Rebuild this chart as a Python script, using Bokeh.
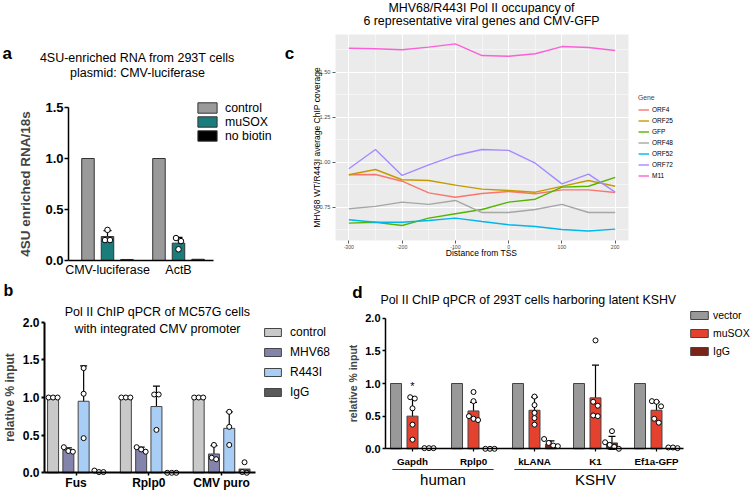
import math
from bokeh.plotting import figure
from bokeh.layouts import row, column
from bokeh.models import (ColumnDataSource, Range1d, FixedTicker, Legend, LegendItem,
                          Whisker, TeeHead, Label, PrintfTickFormatter, BoxAnnotation)
from bokeh.embed import file_html
from bokeh.resources import INLINE
from bokeh.core.properties import value

FONT = "Liberation Sans"

# ---------------- Panel a data ----------------
a_genes = ["CMV-luciferase", "ActB"]
a_series = ["control", "muSOX", "no biotin"]
a_control = [1.0, 1.0]
a_musox = [0.235, 0.17]
a_nobiotin = [0.01, 0.012]
a_musox_sd = [0.058, 0.057]
a_musox_points = [[0.30, 0.20, 0.20], [0.22, 0.19, 0.11]]
a_yticks = [0.0, 0.5, 1.0, 1.5]

# ---------------- Panel b data ----------------
b_genes = ["Fus", "Rplp0", "CMV puro"]
b_series = ["control", "MHV68", "R443I", "IgG"]
b_control = [1.0, 1.0, 1.0]
b_mhv68 = [0.30, 0.31, 0.25]
b_r443i = [0.95, 0.88, 0.59]
b_igg = [0.02, 0.005, 0.05]
b_mhv68_sd = [0.03, 0.03, 0.11]
b_r443i_sd = [0.47, 0.27, 0.22]
b_control_points = [[1.0, 1.0, 1.0], [1.0, 1.0, 1.0], [1.0, 1.0, 1.0]]
b_mhv68_points = [[0.34, 0.29, 0.28], [0.34, 0.31, 0.28], [0.37, 0.20, 0.18]]
b_r443i_points = [[1.39, 1.05, 0.46], [1.04, 1.04, 0.57], [0.81, 0.61, 0.37]]
b_igg_points = [[0.01, 0.03, 0.01], [0.0, 0.0, 0.0], [0.14, 0.01, 0.0]]
b_yticks = [0.0, 0.5, 1.0, 1.5, 2.0]

# ---------------- Panel c data ----------------
c_distance = [-300, -250, -200, -150, -100, -50, 0, 50, 100, 150, 200]
c_genes = ["ORF4", "ORF25", "GFP", "ORF48", "ORF52", "ORF72", "M11"]
c_orf4 = [0.932, 0.933, 0.896, 0.831, 0.807, 0.828, 0.839, 0.826, 0.848, 0.848, 0.833]
c_orf25 = [0.932, 0.961, 0.904, 0.900, 0.874, 0.852, 0.844, 0.835, 0.867, 0.900, 0.868]
c_gfp = [0.663, 0.668, 0.650, 0.691, 0.715, 0.739, 0.780, 0.796, 0.863, 0.868, 0.917]
c_orf48 = [0.743, 0.756, 0.780, 0.767, 0.789, 0.722, 0.722, 0.739, 0.767, 0.722, 0.722]
c_orf52 = [0.682, 0.668, 0.668, 0.678, 0.691, 0.672, 0.654, 0.644, 0.628, 0.619, 0.630]
c_orf72 = [0.965, 1.072, 0.928, 0.987, 1.039, 1.072, 1.067, 0.996, 0.881, 0.935, 0.835]
c_m11 = [1.635, 1.632, 1.626, 1.641, 1.659, 1.594, 1.590, 1.604, 1.644, 1.639, 1.622]
c_xticks = [-300, -200, -100, 0, 100, 200]
c_yticks = [0.75, 1.00, 1.25, 1.50]
c_xlim = (-325, 225)
c_ylim = (0.567, 1.711)

# ---------------- Panel d data ----------------
d_genes = ["Gapdh", "Rplp0", "kLANA", "K1", "Ef1a-GFP"]
d_groups = ["human", "KSHV"]
d_group_first = [0, 2]
d_group_last = [1, 4]
d_series = ["vector", "muSOX", "IgG"]
d_vector = [1.0, 1.0, 1.0, 1.0, 1.0]
d_musox = [0.50, 0.58, 0.59, 0.78, 0.59]
d_igg = [0.01, 0.005, 0.07, 0.09, 0.01]
d_musox_sd = [0.29, 0.13, 0.20, 0.50, 0.13]
d_igg_sd = [0.0, 0.0, 0.05, 0.10, 0.0]
d_musox_points = [[0.79, 0.77, 0.62, 0.37, 0.14], [0.87, 0.73, 0.50, 0.46, 0.44],
                  [0.80, 0.67, 0.55, 0.47, 0.37], [1.66, 0.72, 0.66, 0.51, 0.50],
                  [0.73, 0.72, 0.65, 0.46, 0.40]]
d_igg_points = [[0.01, 0.01, 0.01], [0.0, 0.0, 0.0], [0.15, 0.09, 0.05, 0.04],
                [0.27, 0.10, 0.06, 0.03, 0.0], [0.02, 0.02, 0.01]]
d_significance = ["*", "", "", "", ""]
d_yticks = [0.0, 0.5, 1.0, 1.5, 2.0]


# ---------------- helpers ----------------
class Geom:
    """Maps page pixels to data coordinates; the whole figure is the frame."""
    def __init__(self, ox, oy, w, h, xpx, xval, xscale, ypx, yval, yscale):
        self.ox, self.oy, self.w, self.h = ox, oy, w, h
        self.xpx, self.xval, self.xs = xpx, xval, xscale
        self.ypx, self.yval, self.ys = ypx, yval, yscale
        self.x0, self.x1 = self.dx(ox), self.dx(ox + w)
        self.y0, self.y1 = self.dy(oy + h), self.dy(oy)

    def dx(self, px):
        return self.xval + (px - self.xpx) / self.xs

    def dy(self, py):
        return self.yval + (self.ypx - py) / self.ys


def make_fig(g):
    p = figure(width=g.w, height=g.h, output_backend="svg", toolbar_location=None,
               x_range=Range1d(g.x0, g.x1), y_range=Range1d(g.y0, g.y1),
               min_border_left=0, min_border_right=0, min_border_top=0, min_border_bottom=0)
    p.title.visible = False
    p.outline_line_color = None
    p.grid.visible = False
    p.background_fill_color = "white"
    p.border_fill_color = "white"
    return p


def txt(p, g, s, px, py, size, bold=False, align="center", color="black", angle=0.0):
    p.add_layout(Label(x=g.dx(px), y=g.dy(py), text=s, text_align=align, text_baseline="middle",
                       text_font=FONT, text_font_size=f"{size}px", angle=angle,
                       text_font_style="bold" if bold else "normal", text_color=color))


def spread(vals, thr, step):
    offs = [0.0] * len(vals)
    order = sorted(range(len(vals)), key=lambda i: -vals[i])
    clusters = []
    for i in order:
        if clusters and abs(vals[clusters[-1][-1]] - vals[i]) < thr:
            clusters[-1].append(i)
        else:
            clusters.append([i])
    for c in clusters:
        n = len(c)
        for k, i in enumerate(c):
            offs[i] = (k - (n - 1) / 2) * step
    return offs


def add_points(p, centers, pts, thr, step, size):
    xs, ys = [], []
    for c, vals in zip(centers, pts):
        for o, v in zip(spread(vals, thr, step), vals):
            xs.append(c + o)
            ys.append(v)
    p.scatter(xs, ys, size=size, fill_color="white", line_color="black", line_width=1)


def add_err(p, centers, means, sds, cap, lw=1.2):
    xs, up, lo = [], [], []
    for c, m, s in zip(centers, means, sds):
        if s > 0:
            xs.append(c); up.append(m + s); lo.append(m - s)
    src = ColumnDataSource(dict(x=xs, upper=up, lower=lo))
    p.add_layout(Whisker(source=src, base="x", upper="upper", lower="lower", dimension="height",
                         line_color="black", line_width=lw,
                         upper_head=TeeHead(size=cap, line_color="black", line_width=lw),
                         lower_head=TeeHead(size=cap, line_color="black", line_width=lw)))


def place_legend(p, g, items, left_px, first_cy, row_h, spacing, glyph_h, **kw):
    n = len(items)
    top = first_cy - row_h / 2
    height = n * row_h + (n - 1) * spacing
    leg = Legend(items=items, location=(left_px - g.ox, (g.oy + g.h) - (top + height)),
                 glyph_height=glyph_h, label_height=row_h, spacing=spacing,
                 padding=0, margin=0, border_line_color=None, background_fill_alpha=0,
                 label_text_font=FONT, label_text_color="black", **kw)
    p.add_layout(leg)
    return leg


def gp_axis(ax, lw):
    ax.axis_line_width = lw
    ax.axis_line_color = "black"
    ax.major_tick_line_width = lw
    ax.major_tick_line_color = "black"
    ax.minor_tick_line_color = None
    ax.major_tick_in = 0
    ax.major_label_text_font = FONT
    ax.axis_label_text_font = FONT
    ax.major_label_text_color = "black"


H1 = 278
H2 = 491 - H1
WA = 282
WB = 340

# ================= Panel a =================
ga = Geom(0, 0, WA, H1, xpx=107, xval=0.0, xscale=71.0, ypx=260, yval=0.0, yscale=102.0)
pa = make_fig(ga)
a_idx = list(range(len(a_genes)))
a_off, a_w = 0.275, 0.176
a_colors = ["#9A9A9A", "#1C7C7C", "#000000"]
ra = []
for k, (vals, col) in enumerate(zip([a_control, a_musox, a_nobiotin], a_colors)):
    xs = [i + (k - 1) * a_off for i in a_idx]
    ra.append(pa.vbar(x=xs, top=vals, width=a_w, fill_color=col, line_color="#333333", line_width=1))
add_err(pa, a_idx, a_musox, a_musox_sd, 8)
add_points(pa, a_idx, a_musox_points, 0.04, 0.07, 5.5)

gp_axis(pa.xaxis[0], 1.5)
pa.xaxis.fixed_location = 0
pa.xaxis.bounds = (ga.dx(68), ga.dx(213))
pa.xaxis.ticker = FixedTicker(ticks=a_idx)
pa.xaxis.major_label_overrides = {i: s for i, s in enumerate(a_genes)}
pa.xaxis.major_tick_out = 0
pa.xaxis.major_tick_line_color = None
pa.xaxis.major_label_standoff = 2
pa.xaxis.major_label_text_font_size = "12.5px"
gp_axis(pa.yaxis[0], 1.5)
pa.yaxis.fixed_location = ga.dx(68)
pa.yaxis.bounds = (0, 1.5)
pa.yaxis.ticker = FixedTicker(ticks=a_yticks)
pa.yaxis.formatter = PrintfTickFormatter(format="%.1f")
pa.yaxis.major_tick_out = 4
pa.yaxis.major_label_standoff = 1
pa.yaxis.major_label_text_font_size = "13px"
pa.yaxis.major_label_text_font_style = "bold"
pa.yaxis.axis_label = "4SU enriched RNA/18s"
pa.yaxis.axis_label_text_font_size = "13.5px"
pa.yaxis.axis_label_text_font_style = "bold"
pa.yaxis.axis_label_standoff = 9

txt(pa, ga, "a", 2, 52.5, 17, bold=True, align="left")
txt(pa, ga, "4SU-enriched RNA from 293T cells", 137, 57.5, 12.5)
txt(pa, ga, "plasmid: CMV-luciferase", 137, 72.5, 12.5)
place_legend(pa, ga, [LegendItem(label=s, renderers=[r]) for s, r in zip(a_series, ra)],
             195, 110, 13, 0, 13, glyph_width=24, label_standoff=6, label_text_font_size="12.3px")

# ================= Panel c =================
gc = Geom(WA, 0, 750 - WA, H1, xpx=335, xval=c_xlim[0], xscale=293.0 / (c_xlim[1] - c_xlim[0]),
          ypx=34, yval=c_ylim[1], yscale=180.0)
pc = make_fig(gc)
pc.add_layout(BoxAnnotation(left=c_xlim[0], right=c_xlim[1], bottom=c_ylim[0], top=c_ylim[1],
                            fill_color="#EBEBEB", fill_alpha=1, line_color=None, level="image"))
pc.grid.visible = True
c_xminor = [(a + b) / 2 for a, b in zip(c_xticks[:-1], c_xticks[1:])]
c_yminor = [(a + b) / 2 for a, b in zip(c_yticks[:-1], c_yticks[1:])] + [c_yticks[0] - 0.125, c_yticks[-1] + 0.125]
pc.xaxis.ticker = FixedTicker(ticks=c_xticks, minor_ticks=c_xminor)
pc.yaxis.ticker = FixedTicker(ticks=c_yticks, minor_ticks=c_yminor)
for gr in pc.grid:
    gr.grid_line_color = "white"
    gr.grid_line_width = 1.1
    gr.minor_grid_line_color = "white"
    gr.minor_grid_line_width = 0.5
pc.xgrid.bounds = c_xlim
pc.ygrid.bounds = c_ylim
c_colors = ["#F8766D", "#C49A00", "#53B400", "#A6A6A6", "#00B6EB", "#A58AFF", "#FB61D7"]
rc = []
for vals, col in zip([c_orf4, c_orf25, c_gfp, c_orf48, c_orf52, c_orf72, c_m11], c_colors):
    rc.append(pc.line(c_distance, vals, line_color=col, line_width=1.4))
for ax in (pc.xaxis[0], pc.yaxis[0]):
    ax.axis_line_color = None
    ax.major_tick_line_color = "#333333"
    ax.major_tick_line_width = 0.8
    ax.major_tick_out = 3
    ax.major_tick_in = 0
    ax.minor_tick_line_color = None
    ax.major_label_text_font = FONT
    ax.major_label_text_color = "#4D4D4D"
    ax.major_label_standoff = 1
pc.xaxis.fixed_location = c_ylim[0]
pc.xaxis.bounds = c_xlim
pc.yaxis.fixed_location = c_xlim[0]
pc.yaxis.bounds = c_ylim
pc.xaxis.major_label_text_font_size = "5.2px"
pc.yaxis.major_label_text_font_size = "5.7px"
pc.xaxis.formatter = PrintfTickFormatter(format="%d")
pc.yaxis.formatter = PrintfTickFormatter(format="%.2f")

txt(pc, gc, "Distance from TSS", 481, 252, 8.5)
txt(pc, gc, "MHV68 WT/R443I average ChIP coverage", 316, 147, 8.5, angle=math.pi / 2)
txt(pc, gc, "c", 289, 52.5, 17, bold=True)
txt(pc, gc, "MHV68/R443I Pol II occupancy of", 481, 7, 12.4)
txt(pc, gc, "6 representative viral genes and CMV-GFP", 481, 20, 12.4)
place_legend(pc, gc, [LegendItem(label=s, renderers=[r]) for s, r in zip(c_genes, rc)],
             638, 109, 11, 0, 11, glyph_width=11, label_standoff=3, label_text_font_size="6.5px",
             title="Gene", title_text_font=FONT, title_text_font_size="6.8px",
             title_text_font_style="normal", title_standoff=3)

# ================= Panel b =================
gb = Geom(0, H1, WB, H2, xpx=75.5, xval=0.0, xscale=72.8, ypx=472.3, yval=0.0, yscale=75.3)
pb = make_fig(gb)
b_idx = list(range(len(b_genes)))
b_off, b_w = 0.21, 0.151
b_colors = ["#C9C9C9", "#8383AC", "#A9CEF6", "#5A5A5A"]
b_vals = [b_control, b_mhv68, b_r443i, b_igg]
b_pts = [b_control_points, b_mhv68_points, b_r443i_points, b_igg_points]
rb = []
for k, (vals, col) in enumerate(zip(b_vals, b_colors)):
    xs = [i + (k - 1.5) * b_off for i in b_idx]
    rb.append(pb.vbar(x=xs, top=vals, width=b_w, fill_color=col, line_color="#444444", line_width=1))
add_err(pb, [i - 0.5 * b_off for i in b_idx], b_mhv68, b_mhv68_sd, 7)
add_err(pb, [i + 0.5 * b_off for i in b_idx], b_r443i, b_r443i_sd, 7)
for k, pts in enumerate(b_pts):
    add_points(pb, [i + (k - 1.5) * b_off for i in b_idx], pts, 0.06, 0.062, 5)

gp_axis(pb.xaxis[0], 2)
pb.xaxis.fixed_location = 0
pb.xaxis.bounds = (gb.dx(44), gb.dx(255))
pb.xaxis.ticker = FixedTicker(ticks=b_idx)
pb.xaxis.major_label_overrides = {i: s for i, s in enumerate(b_genes)}
pb.xaxis.major_tick_out = 3
pb.xaxis.major_tick_line_width = 1.5
pb.xaxis.major_label_standoff = 0
pb.xaxis.major_label_text_font_size = "12px"
pb.xaxis.major_label_text_font_style = "bold"
gp_axis(pb.yaxis[0], 2)
pb.yaxis.fixed_location = gb.dx(44)
pb.yaxis.bounds = (0, 2)
pb.yaxis.ticker = FixedTicker(ticks=b_yticks)
pb.yaxis.formatter = PrintfTickFormatter(format="%.1f")
pb.yaxis.major_tick_out = 3
pb.yaxis.major_label_standoff = 2
pb.yaxis.major_label_text_font_size = "12px"
pb.yaxis.major_label_text_font_style = "bold"
pb.yaxis.axis_label = "relative % input"
pb.yaxis.axis_label_text_font_size = "12px"
pb.yaxis.axis_label_text_font_style = "bold"
pb.yaxis.axis_label_standoff = 3

txt(pb, gb, "b", 3, 290, 16, bold=True, align="left")
txt(pb, gb, "Pol II ChIP qPCR of MC57G cells", 157, 311.7, 12.5)
txt(pb, gb, "with integrated CMV promoter", 157, 328.3, 12.5)
place_legend(pb, gb, [LegendItem(label=s, renderers=[r]) for s, r in zip(b_series, rb)],
             262, 331.7, 14, 6, 10, glyph_width=21, label_standoff=7, label_text_font_size="12px")

# ================= Panel d =================
gd = Geom(WB, H1, 750 - WB, H2, xpx=412, xval=0.0, xscale=61.0, ypx=448.3, yval=0.0, yscale=65.3)
pd = make_fig(gd)
d_idx = list(range(len(d_genes)))
d_off, d_w = 0.27, 0.18
d_colors = ["#999999", "#E4412F", "#7A2318"]
rd = []
for k, (vals, col) in enumerate(zip([d_vector, d_musox, d_igg], d_colors)):
    xs = [i + (k - 1) * d_off for i in d_idx]
    rd.append(pd.vbar(x=xs, top=vals, width=d_w, fill_color=col, line_color="#444444", line_width=1))
add_err(pd, d_idx, d_musox, d_musox_sd, 7)
add_err(pd, [i + d_off for i in d_idx], d_igg, d_igg_sd, 7)
add_points(pd, d_idx, d_musox_points, 0.07, 0.075, 5)
add_points(pd, [i + d_off for i in d_idx], d_igg_points, 0.07, 0.075, 5)

sig_x = [i for i, s in zip(d_idx, d_significance) if s]
sig_y = [m + s + 0.17 for m, s, t in zip(d_musox, d_musox_sd, d_significance) if t]
pd.text(x=sig_x, y=sig_y, text=[s for s in d_significance if s], text_align="center",
        text_baseline="middle", text_font=value(FONT), text_font_size="11px")

gp_axis(pd.xaxis[0], 1.5)
pd.xaxis.fixed_location = 0
pd.xaxis.bounds = (gd.dx(385), gd.dx(683))
pd.xaxis.ticker = FixedTicker(ticks=d_idx)
pd.xaxis.major_label_overrides = {i: s for i, s in enumerate(d_genes)}
pd.xaxis.major_tick_out = 3
pd.xaxis.major_tick_line_width = 1.2
pd.xaxis.major_label_standoff = 4
pd.xaxis.major_label_text_font_size = "9.8px"
pd.xaxis.major_label_text_font_style = "bold"
gp_axis(pd.yaxis[0], 1.5)
pd.yaxis.fixed_location = gd.dx(385)
pd.yaxis.bounds = (0, 2)
pd.yaxis.ticker = FixedTicker(ticks=d_yticks)
pd.yaxis.formatter = PrintfTickFormatter(format="%.1f")
pd.yaxis.major_tick_out = 3
pd.yaxis.major_label_standoff = 2
pd.yaxis.major_label_text_font_size = "11px"
pd.yaxis.major_label_text_font_style = "bold"
pd.yaxis.axis_label = "relative % input"
pd.yaxis.axis_label_text_font_size = "10.5px"
pd.yaxis.axis_label_text_font_style = "bold"
pd.yaxis.axis_label_standoff = 3

# group brackets and names
line_y = gd.dy(469)
name_y = gd.dy(479)
gx0 = [d_idx[i] - 0.33 for i in d_group_first]
gx1 = [d_idx[i] + 0.33 for i in d_group_last]
pd.segment(x0=gx0, y0=[line_y] * len(d_groups), x1=gx1, y1=[line_y] * len(d_groups),
           line_color="black", line_width=0.8)
pd.text(x=[(a + b) / 2 for a, b in zip(d_group_first, d_group_last)], y=[name_y] * len(d_groups),
        text=d_groups, text_align="center", text_baseline="middle",
        text_font=value(FONT), text_font_size="15px")

txt(pd, gd, "d", 357, 292, 17, bold=True)
txt(pd, gd, "Pol II ChIP qPCR of 293T cells harboring latent KSHV", 528, 299, 12.4)
place_legend(pd, gd, [LegendItem(label=s, renderers=[r]) for s, r in zip(d_series, rd)],
             688, 315, 12, 6, 10, glyph_width=22, label_standoff=3, label_text_font_size="10.5px")

layout = column(row(pa, pc), row(pb, pd))
open("out.html", "w").write(file_html(layout, INLINE))
